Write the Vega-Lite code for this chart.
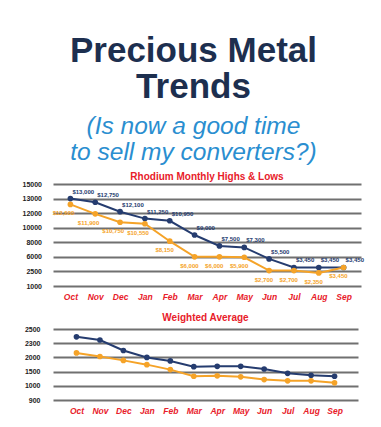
{
  "$schema": "https://vega.github.io/schema/vega-lite/v6.json",
  "background": "white",
  "padding": {"left": 5, "top": 33, "right": 5, "bottom": 5},
  "title": {
    "text": ["Precious Metal", "Trends"],
    "subtitle": ["(Is now a good time", "to sell my converters?)"],
    "anchor": "middle",
    "dx": 9,
    "font": "Liberation Sans",
    "fontSize": 35,
    "fontWeight": "bold",
    "color": "#1d2f4f",
    "lineHeight": 36,
    "subtitleFont": "Liberation Sans",
    "subtitleFontSize": 24.5,
    "subtitleFontStyle": "italic",
    "subtitleColor": "#2a8ed0",
    "subtitleLineHeight": 26,
    "subtitlePadding": 10,
    "offset": 8
  },
  "config": {
    "view": {"stroke": null},
    "axis": {"domain": false, "ticks": false}
  },
  "datasets": {
    "rhodium": [
      {"month": "Oct", "series": "High", "value": 13000},
      {"month": "Nov", "series": "High", "value": 12750},
      {"month": "Dec", "series": "High", "value": 12100},
      {"month": "Jan", "series": "High", "value": 11250},
      {"month": "Feb", "series": "High", "value": 10950},
      {"month": "Mar", "series": "High", "value": 9000},
      {"month": "Apr", "series": "High", "value": 7500},
      {"month": "May", "series": "High", "value": 7300},
      {"month": "Jun", "series": "High", "value": 5500},
      {"month": "Jul", "series": "High", "value": 3450},
      {"month": "Aug", "series": "High", "value": 3450},
      {"month": "Sep", "series": "High", "value": 3450},
      {"month": "Oct", "series": "Low", "value": 12600},
      {"month": "Nov", "series": "Low", "value": 11900},
      {"month": "Dec", "series": "Low", "value": 10750},
      {"month": "Jan", "series": "Low", "value": 10550},
      {"month": "Feb", "series": "Low", "value": 8150},
      {"month": "Mar", "series": "Low", "value": 6000},
      {"month": "Apr", "series": "Low", "value": 6000},
      {"month": "May", "series": "Low", "value": 5900},
      {"month": "Jun", "series": "Low", "value": 2700},
      {"month": "Jul", "series": "Low", "value": 2700},
      {"month": "Aug", "series": "Low", "value": 2350},
      {"month": "Sep", "series": "Low", "value": 3450}
    ],
    "weighted": [
      {"month": "Oct", "series": "High", "value": 2390},
      {"month": "Nov", "series": "High", "value": 2345},
      {"month": "Dec", "series": "High", "value": 2145},
      {"month": "Jan", "series": "High", "value": 2000},
      {"month": "Feb", "series": "High", "value": 1875},
      {"month": "Mar", "series": "High", "value": 1675},
      {"month": "Apr", "series": "High", "value": 1685},
      {"month": "May", "series": "High", "value": 1685},
      {"month": "Jun", "series": "High", "value": 1590},
      {"month": "Jul", "series": "High", "value": 1440},
      {"month": "Aug", "series": "High", "value": 1370},
      {"month": "Sep", "series": "High", "value": 1335},
      {"month": "Oct", "series": "Low", "value": 2095},
      {"month": "Nov", "series": "Low", "value": 2020},
      {"month": "Dec", "series": "Low", "value": 1895},
      {"month": "Jan", "series": "Low", "value": 1745},
      {"month": "Feb", "series": "Low", "value": 1570},
      {"month": "Mar", "series": "Low", "value": 1335},
      {"month": "Apr", "series": "Low", "value": 1350},
      {"month": "May", "series": "Low", "value": 1315},
      {"month": "Jun", "series": "Low", "value": 1220},
      {"month": "Jul", "series": "Low", "value": 1175},
      {"month": "Aug", "series": "Low", "value": 1175},
      {"month": "Sep", "series": "Low", "value": 1105}
    ]
  },
  "spacing": 12,
  "vconcat": [
    {
      "width": 308,
      "height": 102,
      "title": {"text": "Rhodium Monthly Highs & Lows", "color": "#e8202a", "font": "Liberation Sans", "fontSize": 10, "fontWeight": "bold", "anchor": "middle", "offset": -2},
      "data": {"name": "rhodium"},
      "encoding": {
        "x": {
          "field": "month", "type": "ordinal",
          "sort": ["Oct","Nov","Dec","Jan","Feb","Mar","Apr","May","Jun","Jul","Aug","Sep"],
          "scale": {"type": "point", "padding": 0.7},
          "axis": {"title": null, "labelAngle": 0, "labelFont": "Liberation Sans", "labelFontSize": 8.5, "labelFontWeight": "bold", "labelFontStyle": "italic", "labelColor": "#e8202a", "labelPadding": 6, "grid": false}
        },
        "y": {
          "field": "value", "type": "quantitative",
          "scale": {"domain": [1000, 2500, 6000, 8000, 10000, 12000, 13000, 15000], "range": [102, 87.43, 72.86, 58.29, 43.71, 29.14, 14.57, 0], "zero": false, "nice": false},
          "axis": {"title": null, "values": [1000, 2500, 6000, 8000, 10000, 12000, 13000, 15000], "format": "d", "labelFont": "Liberation Sans", "labelFontSize": 7, "labelFontWeight": "bold", "labelColor": "#222222", "labelPadding": 11.5, "minExtent": 46, "maxExtent": 46, "grid": true, "gridColor": "#707070", "gridWidth": 2}
        },
        "color": {"field": "series", "type": "nominal", "scale": {"domain": ["High", "Low"], "range": ["#253c6f", "#f5a328"]}, "legend": null}
      },
      "layer": [
        {"mark": {"type": "line", "strokeWidth": 2}},
        {"mark": {"type": "point", "filled": true, "size": 32, "opacity": 1}},
        {
          "transform": [{"filter": "datum.series == 'High'"}],
          "mark": {"type": "text", "align": "left", "baseline": "middle", "dx": 2, "dy": -7, "font": "Liberation Sans", "fontSize": 6, "fontWeight": "bold"},
          "encoding": {"text": {"field": "value", "type": "quantitative", "format": "$,"}}
        },
        {
          "transform": [{"filter": "datum.series == 'Low'"}],
          "mark": {"type": "text", "align": "right", "baseline": "middle", "dx": 4, "dy": 9, "font": "Liberation Sans", "fontSize": 6, "fontWeight": "bold"},
          "encoding": {"text": {"field": "value", "type": "quantitative", "format": "$,"}}
        }
      ]
    },
    {
      "width": 305,
      "height": 71,
      "title": {"text": "Weighted Average", "color": "#e8202a", "font": "Liberation Sans", "fontSize": 10, "fontWeight": "bold", "anchor": "middle", "offset": 2},
      "data": {"name": "weighted"},
      "encoding": {
        "x": {
          "field": "month", "type": "ordinal",
          "sort": ["Oct","Nov","Dec","Jan","Feb","Mar","Apr","May","Jun","Jul","Aug","Sep"],
          "scale": {"type": "point", "padding": 1.0},
          "axis": {"title": null, "labelAngle": 0, "labelFont": "Liberation Sans", "labelFontSize": 8.5, "labelFontWeight": "bold", "labelFontStyle": "italic", "labelColor": "#e8202a", "labelPadding": 6, "grid": false}
        },
        "y": {
          "field": "value", "type": "quantitative",
          "scale": {"domain": [900, 1000, 1500, 2000, 2300, 2500], "range": [71, 56.8, 42.6, 28.4, 14.2, 0], "zero": false, "nice": false},
          "axis": {"title": null, "values": [900, 1000, 1500, 2000, 2300, 2500], "format": "d", "labelFont": "Liberation Sans", "labelFontSize": 7, "labelFontWeight": "bold", "labelColor": "#222222", "labelPadding": 13, "minExtent": 48, "maxExtent": 48, "grid": true, "gridColor": "#707070", "gridWidth": 2}
        },
        "color": {"field": "series", "type": "nominal", "scale": {"domain": ["High", "Low"], "range": ["#253c6f", "#f5a328"]}, "legend": null}
      },
      "layer": [
        {"mark": {"type": "line", "strokeWidth": 2}},
        {"mark": {"type": "point", "filled": true, "size": 32, "opacity": 1}}
      ]
    }
  ]
}
